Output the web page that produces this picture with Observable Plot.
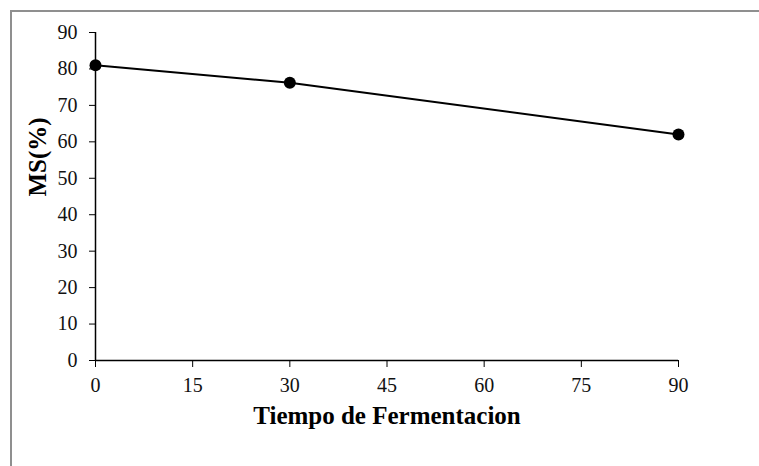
<!DOCTYPE html>
<html>
<head>
<meta charset="utf-8">
<script src="https://cdn.jsdelivr.net/npm/d3@7"></script>
<script src="https://cdn.jsdelivr.net/npm/@observablehq/plot@0.6"></script>
<style>
  html, body { margin: 0; padding: 0; background: #fff; overflow: hidden; }
  #wrap { position: relative; width: 759px; height: 466px; }
  #frame { position: absolute; left: 10px; top: 10px; width: 800px; height: 500px;
           border-top: 2px solid #8f8f8f; border-left: 2px solid #8f8f8f; box-sizing: border-box; }
  #chart { position: absolute; left: 0; top: 0; }
</style>
</head>
<body>
<div id="wrap"><div id="frame"></div><div id="chart"></div></div>
<script>
const times = [0, 30, 90];
const msValues = [81, 76.2, 62];
const xTicks = [0, 15, 30, 45, 60, 75, 90];
const yTicks = [0, 10, 20, 30, 40, 50, 60, 70, 80, 90];
const xTitle = "Tiempo de Fermentacion";
const yTitle = "MS(%)";

const data = times.map((t, i) => ({t, v: msValues[i]}));

const chart = Plot.plot({
  width: 759,
  height: 466,
  marginLeft: 95,
  marginRight: 81,
  marginTop: 32,
  marginBottom: 106,
  x: {domain: [0, 90]},
  y: {domain: [0, 90]},
  style: {fontFamily: "'Liberation Serif', 'Times New Roman', serif", background: "transparent", color: "#111"},
  marks: [
    Plot.axisY({ticks: yTicks, tickSize: 6, tickPadding: 12, fontSize: 20, fontFamily: "'Liberation Serif', serif", label: null, tickFormat: d => String(d), stroke: "#000"}),
    Plot.axisX({ticks: xTicks, tickSize: 7, tickPadding: 10, fontSize: 20, fontFamily: "'Liberation Serif', serif", label: null, tickFormat: d => String(d), stroke: "#000"}),
    Plot.ruleX([0], {y1: 0, y2: 90, stroke: "#000", strokeWidth: 1.5}),
    Plot.ruleY([0], {x1: 0, x2: 90, stroke: "#000", strokeWidth: 1.5}),
    Plot.line(data, {x: "t", y: "v", stroke: "#000", strokeWidth: 2}),
    Plot.dot(data, {x: "t", y: "v", r: 6, fill: "#000", stroke: "none"}),
    Plot.text([xTitle], {frameAnchor: "bottom", dy: 63, fontSize: 25, fontWeight: "bold", fill: "#000"}),
    Plot.text([yTitle], {frameAnchor: "left", dx: -58, rotate: -90, fontSize: 25, fontWeight: "bold", fill: "#000"})
  ]
});
document.getElementById("chart").appendChild(chart);
</script>
</body>
</html>
